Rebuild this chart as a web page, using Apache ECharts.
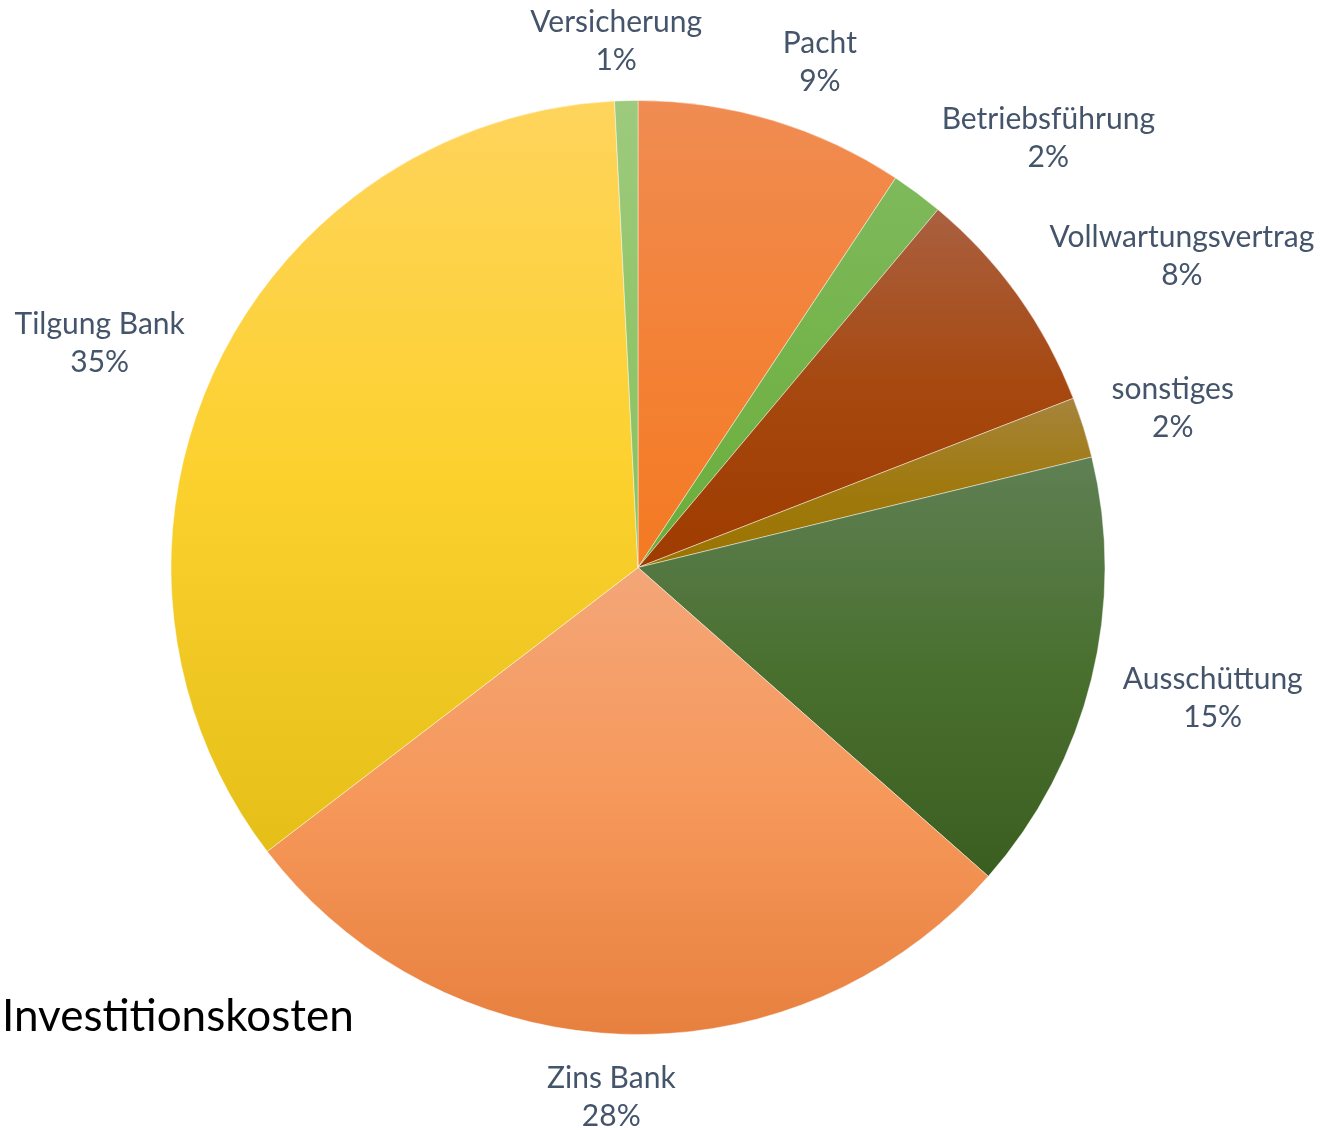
<!DOCTYPE html>
<html>
<head>
<meta charset="utf-8">
<script src="https://cdn.jsdelivr.net/npm/echarts@6/dist/echarts.min.js"></script>
<style>
html,body{margin:0;padding:0;background:#fff;}
#chart{width:1321px;height:1130px;}
</style>
</head>
<body>
<div id="chart"></div>
<script>
const categories = ['Pacht', 'Betriebsführung', 'Vollwartungsvertrag', 'sonstiges', 'Ausschüttung', 'Zins Bank', 'Tilgung Bank', 'Versicherung'];
const values = [9.3, 1.8, 8.0, 2.1, 15.3, 28.1, 34.6, 0.8];
const topColors = ['#F08C52', '#7EB95B', '#AA6040', '#A6843C', '#5F8054', '#F4A678', '#FFD45C', '#9DCA7D'];
const midColors = ['#F38238', '#74B34A', '#A6480F', '#A07A10', '#4A7030', '#F6985A', '#FCD12E', '#92C56A'];
const bottomColors = ['#F47A22', '#6AAD3A', '#9E3B00', '#9C7300', '#3A5E1F', '#E7803F', '#E5BF18', '#8AC15E'];
const chartTitle = 'Investitionskosten';

const CX = 638, CY = 567.5, R = 467, GAP = 23;
const total = values.reduce((a, b) => a + b, 0);
const midAngles = [];
let acc = 0;
values.forEach(v => {
  midAngles.push((acc + v / 2) / total * Math.PI * 2);
  acc += v;
});
const clamp = v => Math.max(-1, Math.min(1, v));

const chart = echarts.init(document.getElementById('chart'));
chart.setOption({
  animation: false,
  title: {
    text: chartTitle,
    left: 2,
    top: 995,
    padding: 0,
    textStyle: { fontFamily: 'Lato', fontSize: 44, fontWeight: 'normal', color: '#000000' }
  },
  series: [{
    type: 'pie',
    center: [CX, CY],
    radius: [0, R],
    startAngle: 90,
    clockwise: true,
    percentPrecision: 0,
    avoidLabelOverlap: false,
    data: categories.map((name, i) => ({
      name: name,
      value: values[i],
      itemStyle: {
        color: new echarts.graphic.LinearGradient(0, 0, 0, 1, [
          { offset: 0, color: topColors[i] },
          { offset: 0.5, color: midColors[i] },
          { offset: 1, color: bottomColors[i] }
        ])
      }
    })),
    itemStyle: { borderColor: 'rgba(255,255,255,0.55)', borderWidth: 0.8 },
    label: {
      show: true,
      position: 'outside',
      formatter: '{b}\n{d}%',
      fontFamily: 'Lato',
      fontSize: 30,
      lineHeight: 38,
      color: '#44546A',
      align: 'center'
    },
    labelLine: { show: false },
    emphasis: { disabled: true },
    labelLayout: function (p) {
      const a = midAngles[p.dataIndex];
      const dx = Math.sin(a), dy = -Math.cos(a);
      const w = p.labelRect.width, h = p.labelRect.height;
      const d = R + GAP;
      return {
        x: CX + dx * d + clamp(4 * dx) * 1.1 * w / 2,
        y: CY + dy * d + clamp(1.25 * dy) * h / 2 + 2,
        align: 'center',
        verticalAlign: 'middle'
      };
    }
  }]
});
</script>
</body>
</html>
